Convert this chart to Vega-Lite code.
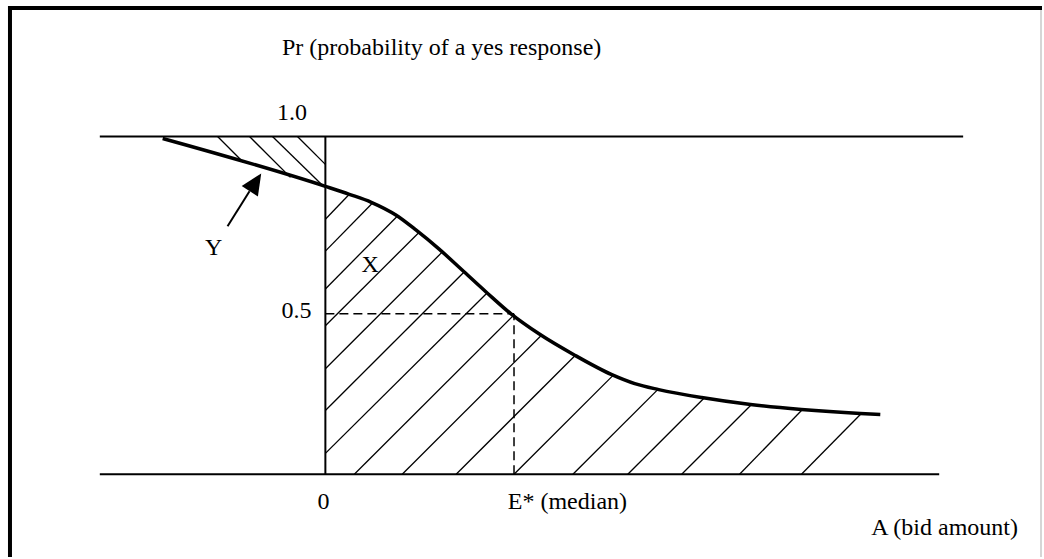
{
  "$schema": "https://vega.github.io/schema/vega-lite/v6.json",
  "width": 1044,
  "height": 559,
  "autosize": {"type": "fit", "contains": "padding"},
  "padding": 0,
  "background": "white",
  "config": {"view": {"stroke": null}},
  "datasets": {
    "frameDark": [
      {"x": -318, "y": 468, "x2": 718, "y2": 468},
      {"x": -316, "y": 470, "x2": -316, "y2": -83}
    ],
    "frameLight": [
      {"x": 717, "y": 466, "x2": 717, "y2": -83}
    ],
    "axes": [
      {"x": -226, "y": 339, "x2": 639, "y2": 339},
      {"x": -226, "y": 0, "x2": 615, "y2": 0},
      {"x": 0, "y": 0, "x2": 0, "y2": 339}
    ],
    "dashed": [
      {"x": 0, "y": 161, "x2": 189, "y2": 161},
      {"x": 189, "y": 0, "x2": 189, "y2": 161}
    ],
    "hatch": [
      {"x": 0, "y": 256, "x2": 24, "y2": 281},
      {"x": 0, "y": 224, "x2": 47, "y2": 272},
      {"x": 0, "y": 186, "x2": 72, "y2": 259},
      {"x": 0, "y": 149, "x2": 94, "y2": 243},
      {"x": 0, "y": 106, "x2": 117, "y2": 223},
      {"x": 0, "y": 64, "x2": 139, "y2": 203},
      {"x": 0, "y": 21, "x2": 162, "y2": 182},
      {"x": 29, "y": 0, "x2": 188, "y2": 159},
      {"x": 77, "y": 0, "x2": 216, "y2": 139},
      {"x": 131, "y": 0, "x2": 251, "y2": 120},
      {"x": 189, "y": 0, "x2": 288, "y2": 99},
      {"x": 248, "y": 0, "x2": 334, "y2": 86},
      {"x": 303, "y": 0, "x2": 379, "y2": 76},
      {"x": 357, "y": 0, "x2": 426, "y2": 69},
      {"x": 415, "y": 0, "x2": 477, "y2": 64},
      {"x": 477, "y": 0, "x2": 536, "y2": 60},
      {"x": -108, "y": 339, "x2": -82, "y2": 313},
      {"x": -76, "y": 339, "x2": -35, "y2": 298},
      {"x": -53, "y": 339, "x2": -4, "y2": 291},
      {"x": -28, "y": 339, "x2": 0, "y2": 311}
    ],
    "curve": [
      {"x": -163, "y": 337},
      {"x": 0, "y": 289},
      {"x": 24, "y": 281},
      {"x": 46, "y": 273},
      {"x": 71, "y": 260},
      {"x": 91, "y": 245},
      {"x": 114, "y": 226},
      {"x": 137, "y": 205},
      {"x": 161, "y": 183},
      {"x": 186, "y": 161},
      {"x": 214, "y": 141},
      {"x": 249, "y": 120},
      {"x": 287, "y": 100},
      {"x": 310, "y": 91},
      {"x": 334, "y": 85},
      {"x": 377, "y": 77},
      {"x": 426, "y": 70},
      {"x": 477, "y": 65},
      {"x": 536, "y": 61},
      {"x": 556, "y": 60}
    ],
    "shaft": [
      {"x": -98, "y": 249, "x2": -76, "y2": 284}
    ],
    "head": [
      {"x": -70, "y": 293}
    ],
    "labels": [
      {"text": "Pr (probability of a yes response)", "x": 116.5, "y": 421},
      {"text": "1.0", "x": -33.5, "y": 356},
      {"text": "0.5", "x": -29, "y": 157},
      {"text": "0", "x": -2, "y": -35},
      {"text": "E* (median)", "x": 242.5, "y": -35},
      {"text": "A (bid amount)", "x": 620.5, "y": -61},
      {"text": "Y", "x": -112, "y": 220},
      {"text": "X", "x": 45, "y": 203}
    ]
  },
  "encoding": {
    "x": {"field": "x", "type": "quantitative", "scale": {"domain": [-326, 718], "nice": false, "zero": false}, "axis": null},
    "y": {"field": "y", "type": "quantitative", "scale": {"domain": [-83, 476], "nice": false, "zero": false}, "axis": null}
  },
  "layer": [
    {
      "data": {"name": "frameDark"},
      "mark": {"type": "rule", "color": "black", "strokeWidth": 4},
      "encoding": {"x2": {"field": "x2"}, "y2": {"field": "y2"}}
    },
    {
      "data": {"name": "frameLight"},
      "mark": {"type": "rule", "color": "#c8c8c8", "strokeWidth": 1.5},
      "encoding": {"x2": {"field": "x2"}, "y2": {"field": "y2"}}
    },
    {
      "data": {"name": "hatch"},
      "mark": {"type": "rule", "color": "black", "strokeWidth": 1.3},
      "encoding": {"x2": {"field": "x2"}, "y2": {"field": "y2"}}
    },
    {
      "data": {"name": "axes"},
      "mark": {"type": "rule", "color": "black", "strokeWidth": 2},
      "encoding": {"x2": {"field": "x2"}, "y2": {"field": "y2"}}
    },
    {
      "data": {"name": "dashed"},
      "mark": {"type": "rule", "color": "black", "strokeWidth": 1.5, "strokeDash": [9, 5]},
      "encoding": {"x2": {"field": "x2"}, "y2": {"field": "y2"}}
    },
    {
      "data": {"name": "curve"},
      "mark": {"type": "line", "color": "black", "strokeWidth": 3.5, "interpolate": "monotone"},
      "encoding": {}
    },
    {
      "data": {"name": "shaft"},
      "mark": {"type": "rule", "color": "black", "strokeWidth": 2},
      "encoding": {"x2": {"field": "x2"}, "y2": {"field": "y2"}}
    },
    {
      "data": {"name": "head"},
      "mark": {"type": "point", "shape": "M0,-1L-0.92,1L0.92,1Z", "filled": true, "color": "black", "opacity": 1, "size": 441, "angle": 33},
      "encoding": {}
    },
    {
      "data": {"name": "labels"},
      "mark": {"type": "text", "font": "Liberation Serif", "fontSize": 24, "color": "black", "align": "center", "baseline": "alphabetic"},
      "encoding": {"text": {"field": "text"}}
    }
  ]
}
